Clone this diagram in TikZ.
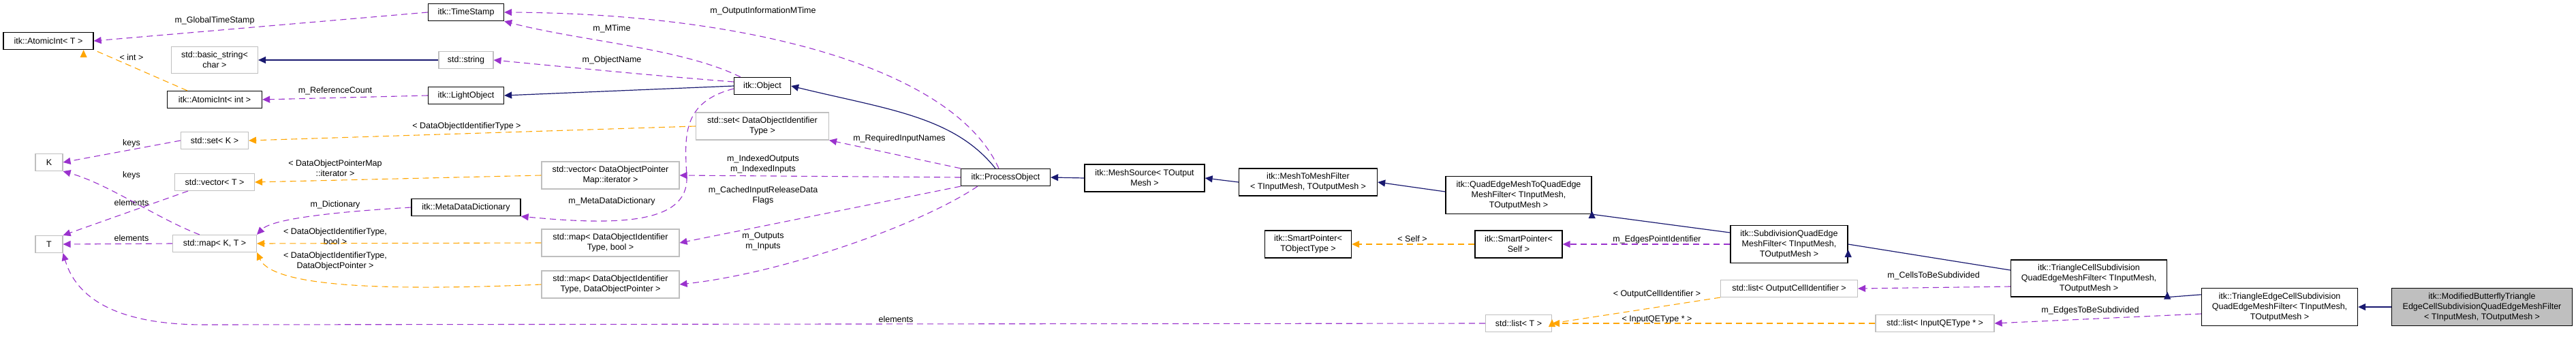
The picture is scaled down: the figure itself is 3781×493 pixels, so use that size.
\documentclass[tikz,border=0pt]{standalone}
\usepackage{fontspec}
\setmainfont{Liberation Sans}
\usetikzlibrary{arrows.meta}
\definecolor{inh}{HTML}{191970}
\definecolor{use}{HTML}{9A32CD}
\definecolor{tpl}{HTML}{FFA500}
\definecolor{gbord}{HTML}{BFBFBF}
\begin{document}
\begin{tikzpicture}[x=1pt,y=-1pt,
  every node/.style={font=\fontsize{12.5}{15}\selectfont, inner sep=0pt, align=center},
  cls/.style={draw=black, line width=1.3pt, fill=white},
  ext/.style={draw=gbord, line width=1.1pt, fill=white},
  lbl/.style={fill=none},
  tip/.style={-{Triangle[length=11pt,width=10pt]}},
  inhe/.style={tip, draw=inh, line width=1.2pt},
  usee/.style={tip, draw=use, line width=1.1pt, dash pattern=on 9pt off 6pt},
  tple/.style={tip, draw=tpl, line width=1.1pt, dash pattern=on 9pt off 6pt}]
\useasboundingbox (0,0) rectangle (3781,493);
% nodes
\node[cls, minimum width=132, minimum height=25] (aiT) at (71,60) {itk::AtomicInt< T >};
\node[ext, minimum width=127, minimum height=39] (bstr) at (315,88) {std::basic\_string<\\char >};
\node[cls, minimum width=139, minimum height=25] (aiI) at (315,146) {itk::AtomicInt< int >};
\node[ext, minimum width=99, minimum height=25] (setK) at (315,206) {std::set< K >};
\node[ext, minimum width=40, minimum height=25] (K) at (72,238) {K};
\node[ext, minimum width=117, minimum height=25] (vecT) at (315,267) {std::vector< T >};
\node[ext, minimum width=123, minimum height=25] (mapKT) at (315,357) {std::map< K, T >};
\node[ext, minimum width=40, minimum height=25] (T) at (72,358) {T};
\node[cls, minimum width=111, minimum height=25] (ts) at (684,18) {itk::TimeStamp};
\node[ext, minimum width=80, minimum height=25] (str) at (684,88) {std::string};
\node[cls, minimum width=111, minimum height=25] (lo) at (684,140) {itk::LightObject};
\node[cls, minimum width=160, minimum height=25] (mdd) at (684,304) {itk::MetaDataDictionary};
\node[ext, minimum width=202, minimum height=40] (vdopm) at (896,257) {std::vector< DataObjectPointer\\Map::iterator >};
\node[ext, minimum width=202, minimum height=40] (mbool) at (896,356) {std::map< DataObjectIdentifier\\Type, bool >};
\node[ext, minimum width=202, minimum height=40] (mdop) at (896,417) {std::map< DataObjectIdentifier\\Type, DataObjectPointer >};
\node[cls, minimum width=83, minimum height=25] (obj) at (1119,126) {itk::Object};
\node[ext, minimum width=195, minimum height=40] (sdoi) at (1119,185) {std::set< DataObjectIdentifier\\Type >};
\node[cls, minimum width=131, minimum height=25] (po) at (1476,260) {itk::ProcessObject};
\node[cls, minimum width=176, minimum height=40] (ms) at (1680,261) {itk::MeshSource< TOutput\\Mesh >};
\node[cls, minimum width=203, minimum height=40] (m2m) at (1920,267) {itk::MeshToMeshFilter\\< TInputMesh, TOutputMesh >};
\node[cls, minimum width=127, minimum height=40] (spT) at (1920,358) {itk::SmartPointer<\\TObjectType >};
\node[cls, minimum width=214, minimum height=55] (qe) at (2229,286) {itk::QuadEdgeMeshToQuadEdge\\MeshFilter< TInputMesh,\\TOutputMesh >};
\node[cls, minimum width=128, minimum height=40] (spS) at (2229,358) {itk::SmartPointer<\\Self >};
\node[cls, minimum width=172, minimum height=55] (sub) at (2626,358) {itk::SubdivisionQuadEdge\\MeshFilter< TInputMesh,\\TOutputMesh >};
\node[ext, minimum width=201, minimum height=25] (loci) at (2626,423) {std::list< OutputCellIdentifier >};
\node[ext, minimum width=97, minimum height=25] (lT) at (2229,474) {std::list< T >};
\node[ext, minimum width=174, minimum height=25] (lqe) at (2840,474) {std::list< InputQEType * >};
\node[cls, minimum width=229, minimum height=54] (tc) at (3066,408) {itk::TriangleCellSubdivision\\QuadEdgeMeshFilter< TInputMesh,\\TOutputMesh >};
\node[cls, minimum width=229, minimum height=55] (te) at (3346,450) {itk::TriangleEdgeCellSubdivision\\QuadEdgeMeshFilter< TInputMesh,\\TOutputMesh >};
\node[cls, fill=gbord, minimum width=265, minimum height=55] (mb) at (3643,450) {itk::ModifiedButterflyTriangle\\EdgeCellSubdivisionQuadEdgeMeshFilter\\< TInputMesh, TOutputMesh >};
% labels
\node[lbl] (l1) at (315,30) {m\_GlobalTimeStamp};
\node[lbl] (l2) at (193,84) {< int >};
\node[lbl] (l3) at (492,133) {m\_ReferenceCount};
\node[lbl] (l4) at (898,42) {m\_MTime};
\node[lbl] (l5) at (1120,16) {m\_OutputInformationMTime};
\node[lbl] (l6) at (898,88) {m\_ObjectName};
\node[lbl] (l7) at (685,185) {< DataObjectIdentifierType >};
\node[lbl] (l8) at (193,210) {keys};
\node[lbl] (l9) at (193,257) {keys};
\node[lbl] (l10) at (492,247) {< DataObjectPointerMap\\::iterator >};
\node[lbl] (l11) at (193,297) {elements};
\node[lbl] (l12) at (193,349) {elements};
\node[lbl] (l13) at (1315,468) {elements};
\node[lbl] (l14) at (492,300) {m\_Dictionary};
\node[lbl] (l15) at (492,347) {< DataObjectIdentifierType,\\bool >};
\node[lbl] (l16) at (492,383) {< DataObjectIdentifierType,\\DataObjectPointer >};
\node[lbl] (l17) at (898,295) {m\_MetaDataDictionary};
\node[lbl] (l18) at (1320,203) {m\_RequiredInputNames};
\node[lbl] (l19) at (1120,241) {m\_IndexedOutputs\\m\_IndexedInputs};
\node[lbl] (l20) at (1120,287) {m\_CachedInputReleaseData\\Flags};
\node[lbl] (l21) at (1120,354) {m\_Outputs\\m\_Inputs};
\node[lbl] (l22) at (2073,350) {< Self >};
\node[lbl] (l23) at (2432,351) {m\_EdgesPointIdentifier};
\node[lbl] (l24) at (2838,404) {m\_CellsToBeSubdivided};
\node[lbl] (l25) at (2432,431) {< OutputCellIdentifier >};
\node[lbl] (l26) at (2432,468) {< InputQEType * >};
\node[lbl] (l27) at (3068,455) {m\_EdgesToBeSubdivided};
% edges
\draw[usee] (ts.west) -- (aiT.east);
\draw[tple] (aiI.north west) ++(30,0) -- (aiT.south east) ++(-15,0);
\draw[inhe] (str.west) -- (bstr.east);
\draw[usee] (lo.west) -- (aiI.east);
\draw[usee] (obj.north west) ++(10,0) .. controls (1000,70) and (850,60) .. (ts.south east);
\draw[usee] (po.north) ++(-10,0) .. controls (1400,100) and (1100,20) .. (ts.east);
\draw[usee] (obj.west) ++(0,-6) .. controls (950,110) and (850,100) .. (str.east);
\draw[inhe] (obj.west) -- (lo.east);
\draw[tple] (sdoi.west) -- (setK.east);
\draw[usee] (setK.west) -- (K.east);
\draw[usee] (mapKT.north west) ++(40,0) .. controls (230,320) and (160,270) .. (K.south east);
\draw[tple] (vdopm.west) -- (vecT.east);
\draw[usee] (vecT.south west) ++(20,0) -- (T.north east);
\draw[usee] (mapKT.west) -- (T.east);
\draw[usee] (lT.west) -- (300,476) .. controls (160,476) and (110,430) .. (T.south east);
\draw[usee] (mdd.west) .. controls (500,310) and (400,320) .. (mapKT.north east);
\draw[tple] (mbool.west) -- (mapKT.east);
\draw[tple] (mdop.west) .. controls (560,427) and (400,420) .. (mapKT.south east);
\draw[usee] (obj.west) ++(0,4) .. controls (1000,150) and (1005,200) .. (1008,260) .. controls (1010,330) and (900,330) .. (mdd.south east);
\draw[usee] (po.north west) -- (sdoi.south east);
\draw[usee] (po.west) -- (vdopm.east);
\draw[usee] (po.south west) -- (mbool.east);
\draw[usee] (po.south west) ++(25,0) .. controls (1350,330) and (1150,400) .. (mdop.east);
\draw[inhe] (po.north) ++(-15,0) .. controls (1400,170) and (1300,160) .. (obj.east);
\draw[inhe] (ms.west) -- (po.east);
\draw[inhe] (m2m.west) -- (ms.east);
\draw[inhe] (qe.west) ++(0,-5) -- (m2m.east);
\draw[tple] (spS.west) -- (spT.east);
\draw[inhe] (sub.west) ++(0,-17) -- (qe.south east) ++(0,-5);
\draw[usee] (sub.west) -- (spS.east);
\draw[inhe] (tc.west) ++(0,-12) -- (sub.east) ++(0,8);
\draw[usee] (tc.west) ++(0,12) -- (loci.east);
\draw[tple] (loci.south west) -- (lT.east) ++(0,-6);
\draw[tple] (lqe.west) -- (lT.east);
\draw[inhe] (te.north west) ++(0,10) -- (tc.south east) ++(0,-8);
\draw[usee] (te.west) ++(0,10) -- (lqe.east);
\draw[inhe] (mb.west) -- (te.east);
\end{tikzpicture}
\end{document}
